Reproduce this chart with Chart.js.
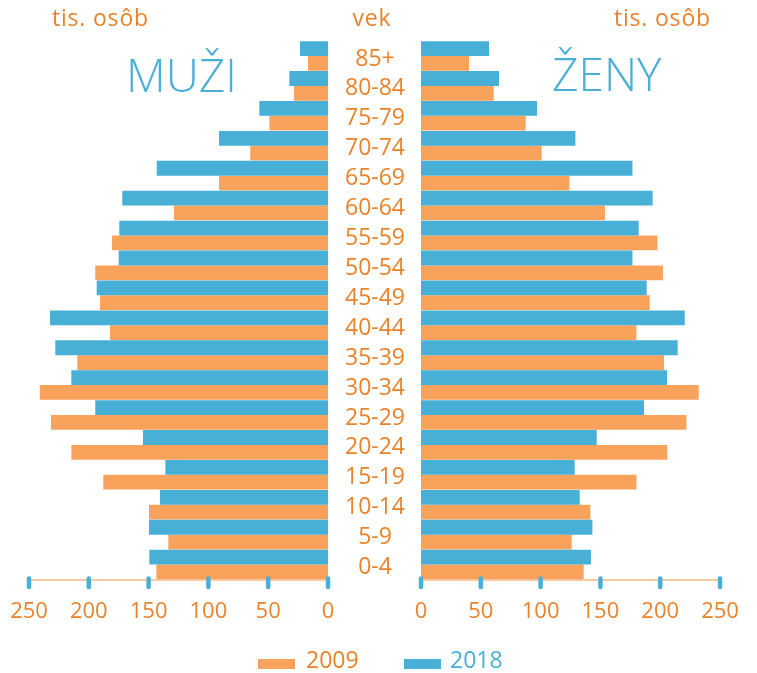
<!DOCTYPE html>
<html>
<head>
<meta charset="utf-8">
<script src="https://cdn.jsdelivr.net/npm/chart.js@4.4.1/dist/chart.umd.min.js"></script>
<style>
  html, body { margin: 0; padding: 0; background: #fff; }
  body { width: 757px; height: 673px; position: relative; overflow: hidden; font-family: 'Open Sans', sans-serif; }
  .box { position: absolute; top: 0; height: 673px; }
  .txt { position: absolute; line-height: 1; white-space: nowrap; }
  .orange { color: #e8832b; }
  .blue { color: #48afd6; }
  .swatch { position: absolute; width: 37px; height: 10px; }
</style>
</head>
<body>
<div class="box" id="leftBox" style="left:0;width:360px"><canvas id="men_chart"></canvas></div>
<div class="box" id="rightBox" style="left:328px;width:429px"><canvas id="women_chart"></canvas></div>

<div class="txt orange" style="left:52px;top:6px;font-size:23px;letter-spacing:0.8px">tis. osôb</div>
<div class="txt orange" style="left:332px;width:80px;text-align:center;top:6px;font-size:23px;letter-spacing:0.8px">vek</div>
<div class="txt orange" style="left:614px;top:6px;font-size:23px;letter-spacing:0.8px">tis. osôb</div>
<div class="txt blue" style="left:126px;top:51px;font-size:46px;font-weight:300">MUŽI</div>
<div class="txt blue" style="left:552px;top:50px;font-size:46px;font-weight:300">ŽENY</div>

<div class="swatch" style="left:258px;top:659px;background:#f9a25b"></div>
<div class="txt orange" style="left:306px;top:648px;font-size:23px">2009</div>
<div class="swatch" style="left:404px;top:659px;background:#48afd6"></div>
<div class="txt blue" style="left:450px;top:648px;font-size:23px">2018</div>

<script>
Chart.defaults.font.family = 'Open Sans';
const ages = ['85+', '80-84', '75-79', '70-74', '65-69', '60-64', '55-59', '50-54', '45-49',
  '40-44', '35-39', '30-34', '25-29', '20-24', '15-19', '10-14', '5-9', '0-4'];
// tis. osob
const men_2018 = [23.4, 32.3, 57.4, 91.1, 143.2, 172.0, 174.5, 175.0, 193.4,
  232.4, 228.0, 214.6, 194.6, 154.7, 136.0, 140.5, 149.7, 149.4];
const men_2009 = [16.7, 28.4, 49.0, 65.0, 91.1, 128.8, 180.6, 194.6, 190.6,
  182.3, 209.6, 241.0, 231.6, 214.6, 187.9, 149.7, 133.5, 143.5];
const women_2018 = [56.9, 65.2, 97.0, 129.1, 176.8, 193.7, 182.0, 176.8, 188.7,
  220.5, 214.6, 205.7, 186.5, 146.9, 128.5, 132.7, 143.3, 142.1];
const women_2009 = [40.1, 60.8, 87.5, 100.9, 124.1, 153.8, 197.7, 202.3, 191.2,
  180.1, 203.2, 232.2, 221.9, 206.0, 180.1, 141.6, 126.0, 136.0];

const ORANGE = '#f9a25b';
const BLUE = '#48afd6';
const TEXT_ORANGE = '#e8832b';

// blue rounded tick marks over the axis line
const tickMarks = {
  id: 'tickMarks',
  afterDraw(chart) {
    const sc = chart.scales.x;
    const ctx = chart.ctx;
    const y = sc.top;
    ctx.save();
    ctx.strokeStyle = BLUE;
    ctx.lineWidth = 4.5;
    ctx.lineCap = 'round';
    sc.ticks.forEach(t => {
      const x = sc.getPixelForValue(t.value);
      ctx.beginPath();
      ctx.moveTo(x, y - 1);
      ctx.lineTo(x, y + 7.5);
      ctx.stroke();
    });
    ctx.restore();
  }
};

function makeData(blue, orange) {
  return {
    labels: ages,
    datasets: [
      { label: '2018', data: blue, backgroundColor: BLUE, categoryPercentage: 0.99, barPercentage: 1 },
      { label: '2009', data: orange, backgroundColor: ORANGE, categoryPercentage: 0.99, barPercentage: 1 },
    ],
  };
}

function xScale(reverse) {
  return {
    min: 0,
    max: 250,
    reverse: reverse,
    // tick length only used as label offset, marks are drawn by the plugin
    grid: { display: false, drawTicks: true, tickLength: 19 },
    border: { display: true, color: '#f9c9a1', width: 2 },
    ticks: { stepSize: 50, padding: 0, color: TEXT_ORANGE, font: { size: 22 } },
    afterFit(scale) { scale.height = 60; },
  };
}

const chart_men = new Chart(document.getElementById('men_chart'), {
  type: 'bar',
  data: makeData(men_2018, men_2009),
  options: {
    indexAxis: 'y',
    animation: false,
    responsive: true,
    maintainAspectRatio: false,
    layout: { padding: { left: 29, right: 32, top: 41, bottom: 33.5 } },
    scales: {
      x: xScale(true),
      y: { display: false },
    },
    plugins: { legend: { display: false }, tooltip: { enabled: false } },
  },
  plugins: [tickMarks],
});

const chart_women = new Chart(document.getElementById('women_chart'), {
  type: 'bar',
  data: makeData(women_2018, women_2009),
  options: {
    indexAxis: 'y',
    animation: false,
    responsive: true,
    maintainAspectRatio: false,
    layout: { padding: { left: 0, right: 37, top: 41, bottom: 33.5 } },
    scales: {
      x: xScale(false),
      y: {
        position: 'left',
        grid: { display: false, drawTicks: false },
        border: { display: false },
        ticks: { color: TEXT_ORANGE, font: { size: 23 }, crossAlign: 'center', padding: 16, labelOffset: 3, autoSkip: false },
        afterFit(scale) { scale.width = 93; },
      },
    },
    plugins: { legend: { display: false }, tooltip: { enabled: false } },
  },
  plugins: [tickMarks],
});
</script>
</body>
</html>
